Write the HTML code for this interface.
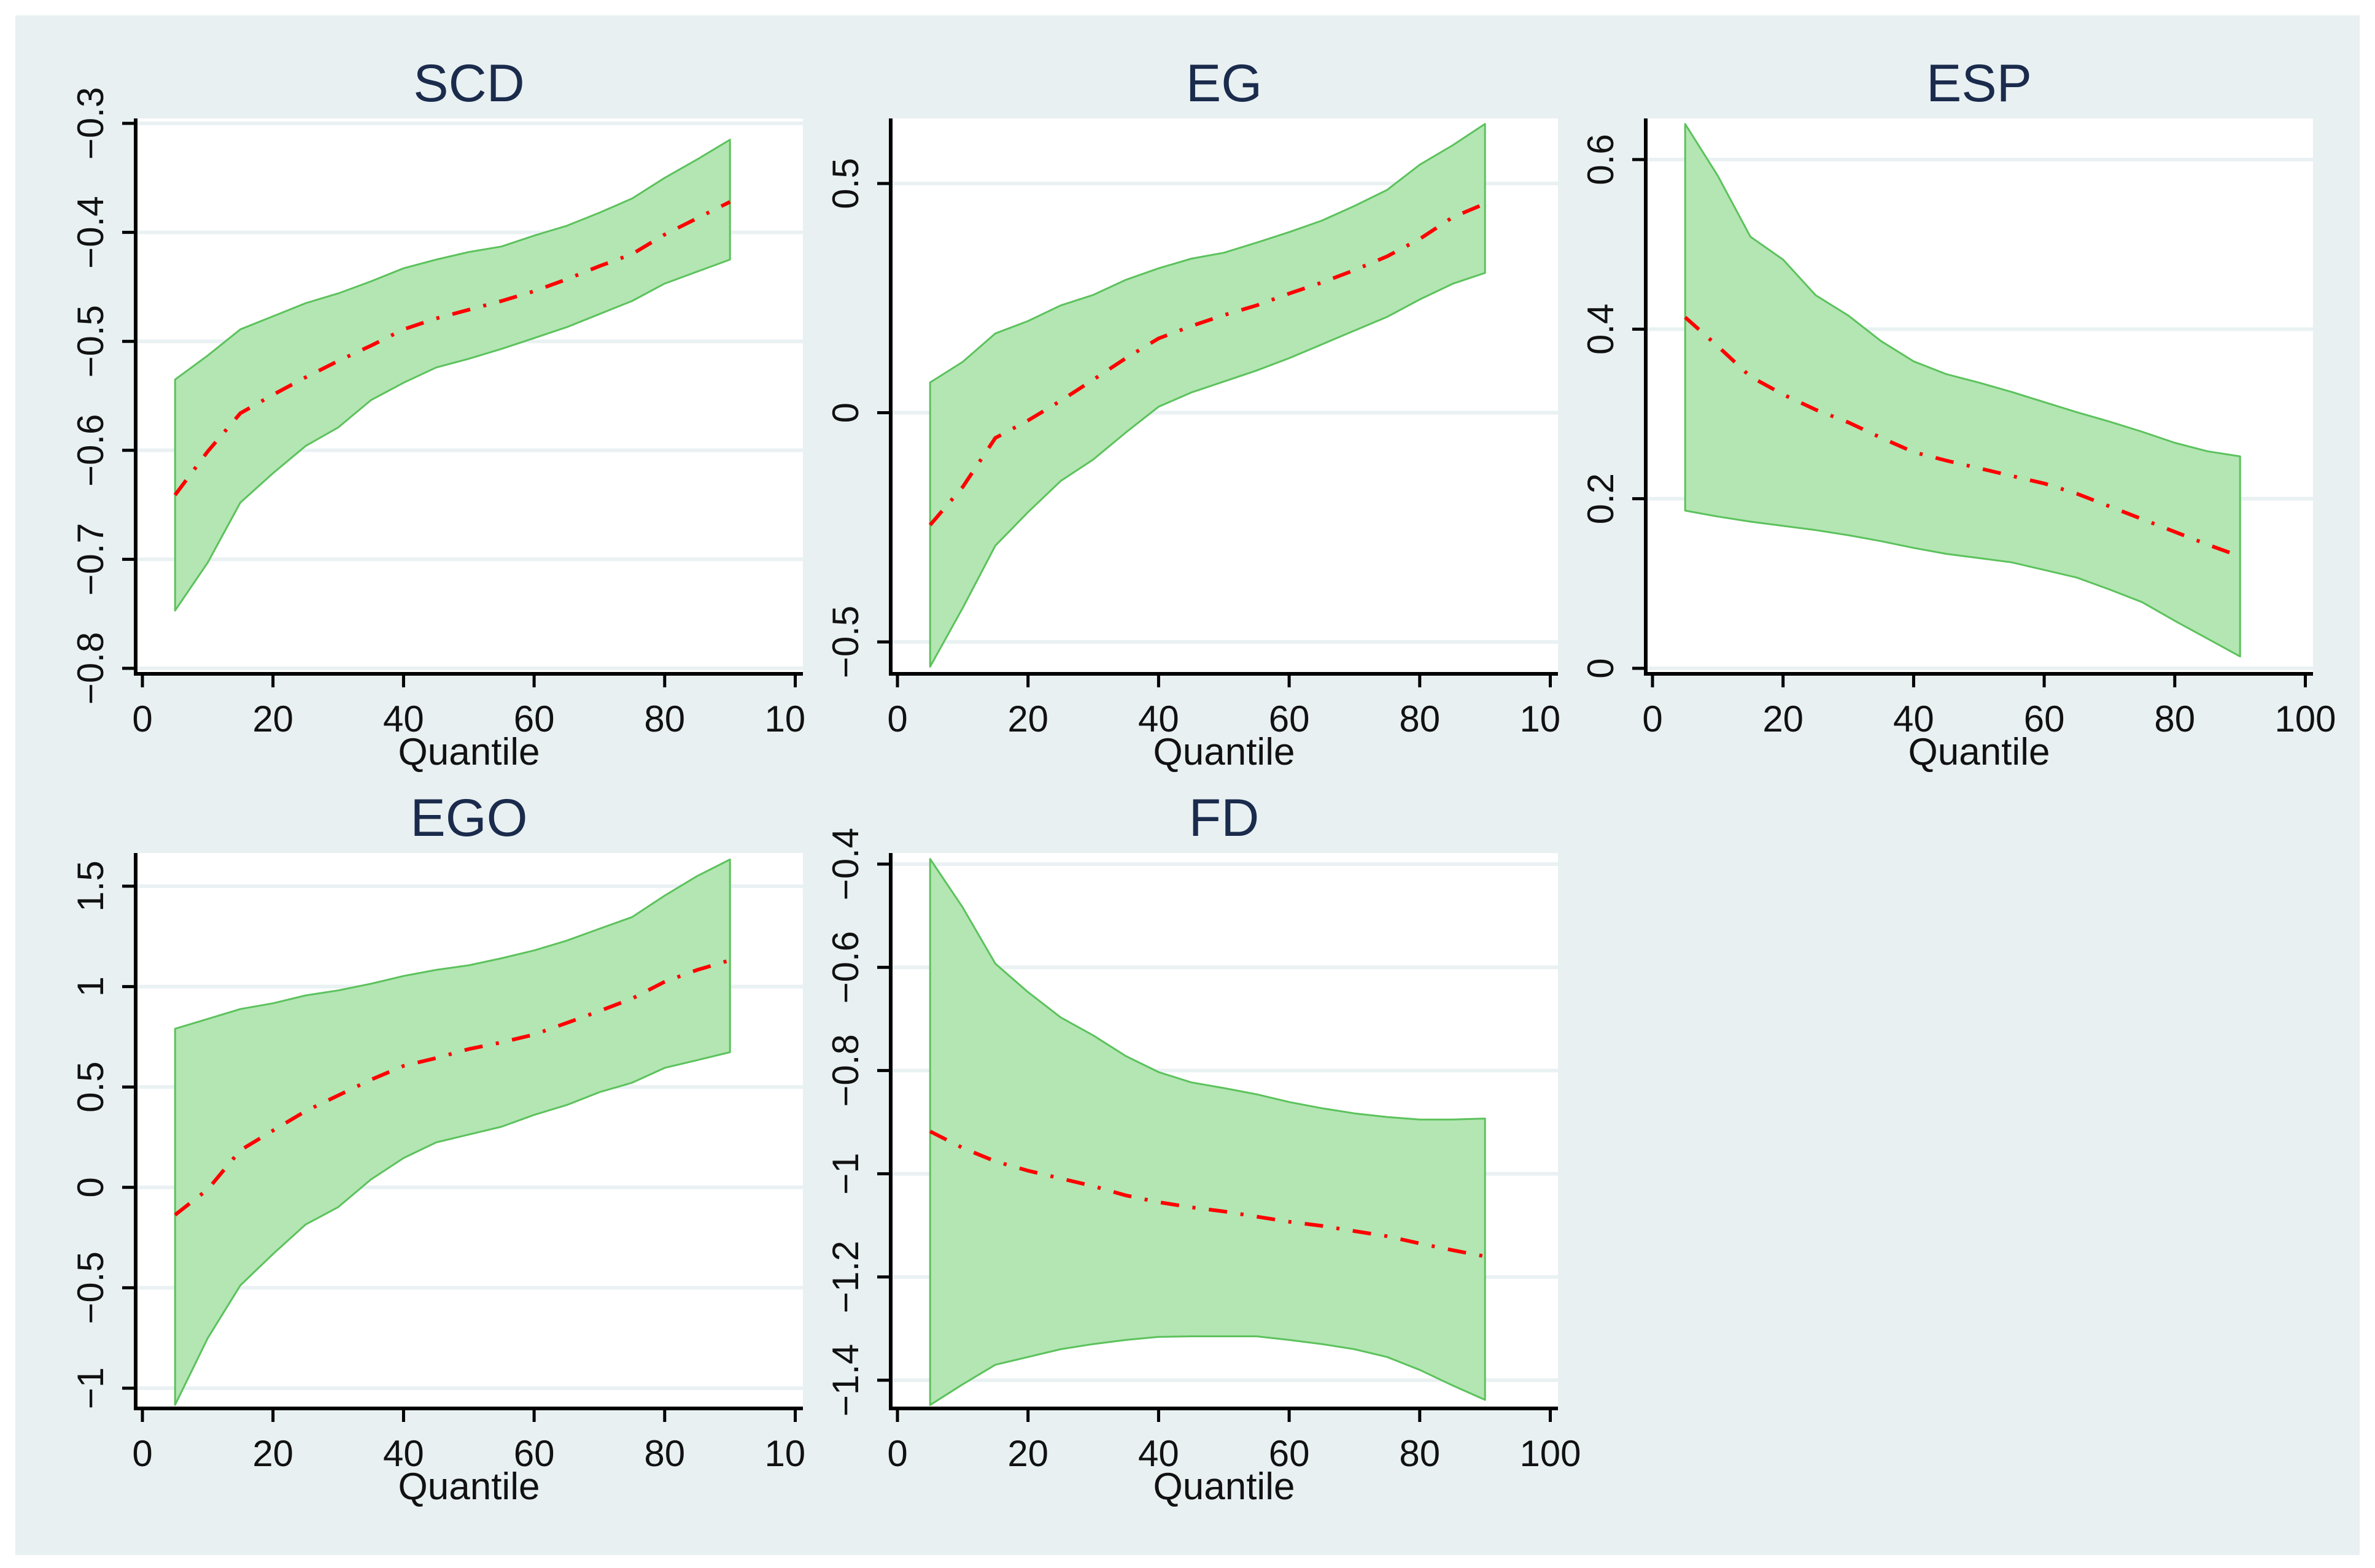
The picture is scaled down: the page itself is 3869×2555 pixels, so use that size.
<!DOCTYPE html>
<html><head><meta charset="utf-8"><style>
html,body{margin:0;padding:0;background:#fff;width:3869px;height:2555px;overflow:hidden}
svg{display:block}
text{font-family:"Liberation Sans",Arial,sans-serif}
</style></head><body>
<svg id="chart" width="3869" height="2555" viewBox="0 0 3869 2555" xmlns="http://www.w3.org/2000/svg">
<defs>
<clipPath id="clipA"><rect x="0" y="0" width="1312" height="2555"/></clipPath>
<clipPath id="clipB"><rect x="1312" y="0" width="1231" height="2555"/></clipPath>
<clipPath id="clipC"><rect x="0" y="0" width="3869" height="2555"/></clipPath>
</defs>
<rect x="25" y="25" width="3819" height="2509" fill="#e8f0f2"/>
<g id="panels"></g>
</svg>
<script>
const quantiles = [5,10,15,20,25,30,35,40,45,50,55,60,65,70,75,80,85,90];
const xTicks = [0,20,40,60,80,100];
const xTickLabels = ["0","20","40","60","80","100"];

const scdUpper = [-0.535,-0.513,-0.489,-0.477,-0.465,-0.456,-0.445,-0.433,-0.425,-0.418,-0.413,-0.403,-0.394,-0.382,-0.369,-0.350,-0.333,-0.315];
const scdLower = [-0.747,-0.703,-0.648,-0.621,-0.596,-0.579,-0.554,-0.538,-0.524,-0.516,-0.507,-0.497,-0.487,-0.475,-0.463,-0.447,-0.436,-0.425];
const scdCoef  = [-0.641,-0.601,-0.566,-0.549,-0.533,-0.518,-0.504,-0.489,-0.479,-0.471,-0.463,-0.454,-0.443,-0.431,-0.420,-0.402,-0.387,-0.372];
const scdTicks = [-0.3,-0.4,-0.5,-0.6,-0.7,-0.8];
const scdTickLabels = ["\u22120.3","\u22120.4","\u22120.5","\u22120.6","\u22120.7","\u22120.8"];

const egUpper = [0.066,0.111,0.173,0.200,0.234,0.257,0.290,0.315,0.336,0.349,0.371,0.394,0.419,0.451,0.486,0.541,0.583,0.630];
const egLower = [-0.554,-0.426,-0.290,-0.217,-0.149,-0.102,-0.043,0.013,0.044,0.068,0.092,0.119,0.149,0.179,0.209,0.247,0.281,0.305];
const egCoef  = [-0.245,-0.162,-0.055,-0.017,0.026,0.072,0.119,0.162,0.189,0.213,0.234,0.260,0.284,0.311,0.341,0.379,0.426,0.456];
const egTicks = [0.5,0,-0.5];
const egTickLabels = ["0.5","0","\u22120.5"];

const espUpper = [0.642,0.581,0.509,0.482,0.440,0.416,0.386,0.362,0.347,0.337,0.326,0.314,0.302,0.291,0.279,0.266,0.256,0.250];
const espLower = [0.186,0.179,0.173,0.168,0.163,0.157,0.150,0.142,0.135,0.130,0.125,0.116,0.107,0.093,0.078,0.056,0.035,0.014];
const espCoef  = [0.414,0.380,0.344,0.323,0.305,0.290,0.272,0.255,0.245,0.236,0.227,0.218,0.206,0.191,0.176,0.161,0.146,0.132];
const espTicks = [0.6,0.4,0.2,0];
const espTickLabels = ["0.6","0.4","0.2","0"];

const egoUpper = [0.790,0.839,0.888,0.917,0.956,0.981,1.014,1.053,1.083,1.106,1.141,1.180,1.229,1.288,1.346,1.453,1.551,1.633];
const egoLower = [-1.083,-0.751,-0.488,-0.332,-0.185,-0.098,0.039,0.146,0.224,0.263,0.302,0.361,0.410,0.474,0.521,0.595,0.634,0.673];
const egoCoef  = [-0.137,-0.010,0.185,0.283,0.380,0.458,0.536,0.605,0.644,0.689,0.722,0.761,0.819,0.878,0.940,1.024,1.083,1.131];
const egoTicks = [1.5,1,0.5,0,-0.5,-1];
const egoTickLabels = ["1.5","1","0.5","0","\u22120.5","\u22121"];

const fdUpper = [-0.390,-0.484,-0.593,-0.648,-0.697,-0.732,-0.772,-0.803,-0.823,-0.834,-0.846,-0.861,-0.873,-0.883,-0.890,-0.895,-0.895,-0.893];
const fdLower = [-1.448,-1.408,-1.370,-1.355,-1.340,-1.330,-1.322,-1.316,-1.315,-1.315,-1.315,-1.322,-1.330,-1.340,-1.355,-1.380,-1.410,-1.438];
const fdCoef  = [-0.918,-0.950,-0.976,-0.994,-1.009,-1.024,-1.042,-1.055,-1.065,-1.073,-1.083,-1.093,-1.101,-1.111,-1.121,-1.135,-1.148,-1.160];
const fdTicks = [-0.4,-0.6,-0.8,-1,-1.2,-1.4];
const fdTickLabels = ["\u22120.4","\u22120.6","\u22120.8","\u22121","\u22121.2","\u22121.4"];

const NS = "http://www.w3.org/2000/svg";
const root = document.getElementById('panels');
function mk(tag, attrs, parent){
  const e = document.createElementNS(NS, tag);
  for (const k in attrs) e.setAttribute(k, attrs[k]);
  (parent||root).appendChild(e);
  return e;
}

const panels = [
  {name:'scd', title:'SCD', x0:232, top:193, ya:-0.3, pa:201, yb:-0.8, pb:1089, up:scdUpper, lo:scdLower, co:scdCoef, ticks:scdTicks, tl:scdTickLabels, clip:'clipA'},
  {name:'eg', title:'EG', x0:1462, top:193, ya:0.5, pa:299, yb:-0.5, pb:1046, up:egUpper, lo:egLower, co:egCoef, ticks:egTicks, tl:egTickLabels, clip:'clipB'},
  {name:'esp', title:'ESP', x0:2692, top:193, ya:0.6, pa:260, yb:0, pb:1089, up:espUpper, lo:espLower, co:espCoef, ticks:espTicks, tl:espTickLabels, clip:'clipC'},
  {name:'ego', title:'EGO', x0:232, top:1390, ya:1.5, pa:1444, yb:-1, pb:2262, up:egoUpper, lo:egoLower, co:egoCoef, ticks:egoTicks, tl:egoTickLabels, clip:'clipA'},
  {name:'fd', title:'FD', x0:1462, top:1390, ya:-0.4, pa:1408, yb:-1.4, pb:2249, up:fdUpper, lo:fdLower, co:fdCoef, ticks:fdTicks, tl:fdTickLabels, clip:'clipC'}
];

panels.forEach(p => {
  const g = mk('g', {});
  
  
  const xS = v => p.x0 + v * 10.635;
  const yS = v => p.pa + (v - p.ya) * (p.pb - p.pa) / (p.yb - p.ya);
  const left = p.x0 - 11, right = p.x0 + 1076, axisY = p.top + 905;

  const bg = mk('rect', {x:left, y:p.top, width:right-left, height:axisY-p.top, fill:'#ffffff'}, g);
  
  

  p.ticks.forEach((t, i) => {
    const gl = mk('line', {x1:left, x2:right, y1:yS(t), y2:yS(t), stroke:'#eaf1f3', 'stroke-width':6}, g);
    
    
  });

  let d = '';
  quantiles.forEach((q, i) => { d += (i ? 'L' : 'M') + xS(q).toFixed(1) + ',' + yS(p.up[i]).toFixed(1); });
  for (let i = quantiles.length - 1; i >= 0; i--) d += 'L' + xS(quantiles[i]).toFixed(1) + ',' + yS(p.lo[i]).toFixed(1);
  d += 'Z';
  const band = mk('path', {d:d, fill:'#b3e6b3', stroke:'#5cc25c', 'stroke-width':3, 'stroke-linejoin':'round'}, g);
  
  

  const pts = quantiles.map((q, i) => xS(q).toFixed(1) + ',' + yS(p.co[i]).toFixed(1)).join(' ');
  const line = mk('polyline', {points:pts, fill:'none', stroke:'#ff0000', 'stroke-width':6, 'stroke-dasharray':'30 22 5 22'}, g);
  
  

  const ya = mk('line', {x1:left, x2:left, y1:p.top, y2:axisY + 3, stroke:'#000', 'stroke-width':6}, g);
  
  
  const xa = mk('line', {x1:left - 3, x2:right, y1:axisY, y2:axisY, stroke:'#000', 'stroke-width':6}, g);
  
  

  p.ticks.forEach((t, i) => {
    mk('line', {x1:left - 22, x2:left, y1:yS(t), y2:yS(t), stroke:'#000', 'stroke-width':5}, g);
    const tx = mk('text', {x:0, y:0, 'font-size':60, fill:'#111', 'text-anchor':'middle',
      transform:'translate(' + (p.x0 - 64) + ',' + yS(t).toFixed(1) + ') rotate(-90)'}, g);
    tx.textContent = p.tl[i];
    
    
  });
  const tg = mk('g', {'clip-path':'url(#' + p.clip + ')'}, g);
  
  
  xTicks.forEach((t, i) => {
    mk('line', {x1:xS(t), x2:xS(t), y1:axisY, y2:axisY + 22, stroke:'#000', 'stroke-width':5}, g);
    const tx = mk('text', {x:xS(t), y:axisY + 94, 'font-size':60, fill:'#111', 'text-anchor':'middle'}, tg);
    tx.textContent = xTickLabels[i];
    
    
  });
  const xt = mk('text', {x:p.x0 + 532, y:axisY + 148, 'font-size':62, fill:'#111', 'text-anchor':'middle'}, g);
  xt.textContent = 'Quantile';
  
  
  const tt = mk('text', {x:p.x0 + 532, y:p.top - 28, 'font-size':86, fill:'#1a2b4c', 'text-anchor':'middle'}, g);
  tt.textContent = p.title;
  
  
});
</script>
</body></html>
